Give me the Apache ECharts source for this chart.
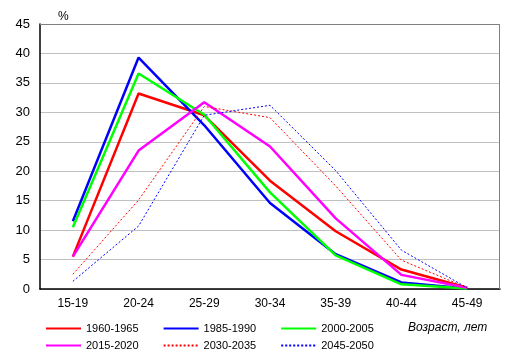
<!DOCTYPE html>
<html><head><meta charset="utf-8">
<script src="https://cdn.jsdelivr.net/npm/echarts@6/dist/echarts.min.js"></script>
<style>html,body{margin:0;padding:0;background:#fff}#c{width:515px;height:357px}</style>
</head><body><div id="c"></div>
<script>
const categories = ['15-19','20-24','25-29','30-34','35-39','40-44','45-49'];
const s1960 = [5.5, 33.2, 29.5, 18.4, 9.8, 3.3, 0.2];
const s1985 = [11.5, 39.3, 27.8, 14.6, 5.9, 1.1, 0.1];
const s2000 = [10.5, 36.6, 29.6, 16.4, 5.7, 0.8, 0.1];
const s2015 = [5.5, 23.5, 31.7, 24.2, 12.0, 2.4, 0.2];
const s2030 = [2.5, 15.1, 31.0, 29.1, 17.5, 4.9, 0.2];
const s2045 = [1.3, 10.7, 29.5, 31.2, 20.1, 6.6, 0.2];
const seriesNames = ['1960-1965','1985-1990','2000-2005','2015-2020','2030-2035','2045-2050'];
const yTicks = [0,5,10,15,20,25,30,35,40,45];

const font = 'Liberation Sans, Arial, sans-serif';
const defs = [
  {name: seriesNames[0], data: s1960, color: '#ff0000', width: 2.5, type: 'solid'},
  {name: seriesNames[1], data: s1985, color: '#0000ff', width: 2.5, type: 'solid'},
  {name: seriesNames[2], data: s2000, color: '#00ff00', width: 2.5, type: 'solid'},
  {name: seriesNames[3], data: s2015, color: '#ff00ff', width: 2.5, type: 'solid'},
  {name: seriesNames[4], data: s2030, color: '#ff0000', width: 1, type: [2,2]},
  {name: seriesNames[5], data: s2045, color: '#0000ff', width: 1, type: [2,2]}
];
const chart = echarts.init(document.getElementById('c'), null, {renderer: 'canvas'});
const legendBase = {
  orient: 'horizontal', itemWidth: 35, itemHeight: 10, itemGap: 24, padding: 0,
  itemStyle: {opacity: 0},
  textStyle: {fontFamily: font, fontSize: 11, color: '#000'},
  selectedMode: false
};
chart.setOption({
  animation: false,
  grid: {left: 40, right: 15, top: 24, bottom: 68},
  title: [
    {text: '%', left: 53, top: 6, textStyle: {fontFamily: font, fontSize: 12, fontWeight: 'normal', color: '#000'}},
    {text: 'Возраст, лет', left: 403, top: 317, textStyle: {fontFamily: font, fontSize: 12, fontStyle: 'italic', fontWeight: 'normal', color: '#000'}}
  ],
  legend: [
    Object.assign({}, legendBase, {left: 45, top: 323, data: seriesNames.slice(0,3)}),
    Object.assign({}, legendBase, {left: 45, top: 340, data: seriesNames.slice(3)})
  ],
  xAxis: {
    type: 'category', data: categories, boundaryGap: true,
    axisLine: {lineStyle: {color: '#000', width: 1.5}},
    axisTick: {show: false},
    axisLabel: {fontFamily: font, fontSize: 12, color: '#000', margin: 9}
  },
  yAxis: {
    type: 'value', min: 0, max: 45, interval: 5,
    axisLine: {show: true, lineStyle: {color: '#000', width: 1.5}},
    axisTick: {show: false},
    axisLabel: {fontFamily: font, fontSize: 13, color: '#000', margin: 10,
      formatter: v => yTicks.includes(v) ? String(v) : ''},
    splitLine: {lineStyle: {color: '#c0c0c0', width: 1}}
  },
  graphic: [{
    type: 'polyline', silent: true, z: 1,
    shape: {points: [[40, 24.5], [499.5, 24.5], [499.5, 289]]},
    style: {stroke: '#808080', lineWidth: 1, fill: null}
  }],
  series: defs.map(d => ({
    name: d.name, type: 'line', data: d.data, symbol: 'none',
    color: d.color,
    lineStyle: {color: d.color, width: d.width, type: d.type}
  }))
});
</script></body></html>
